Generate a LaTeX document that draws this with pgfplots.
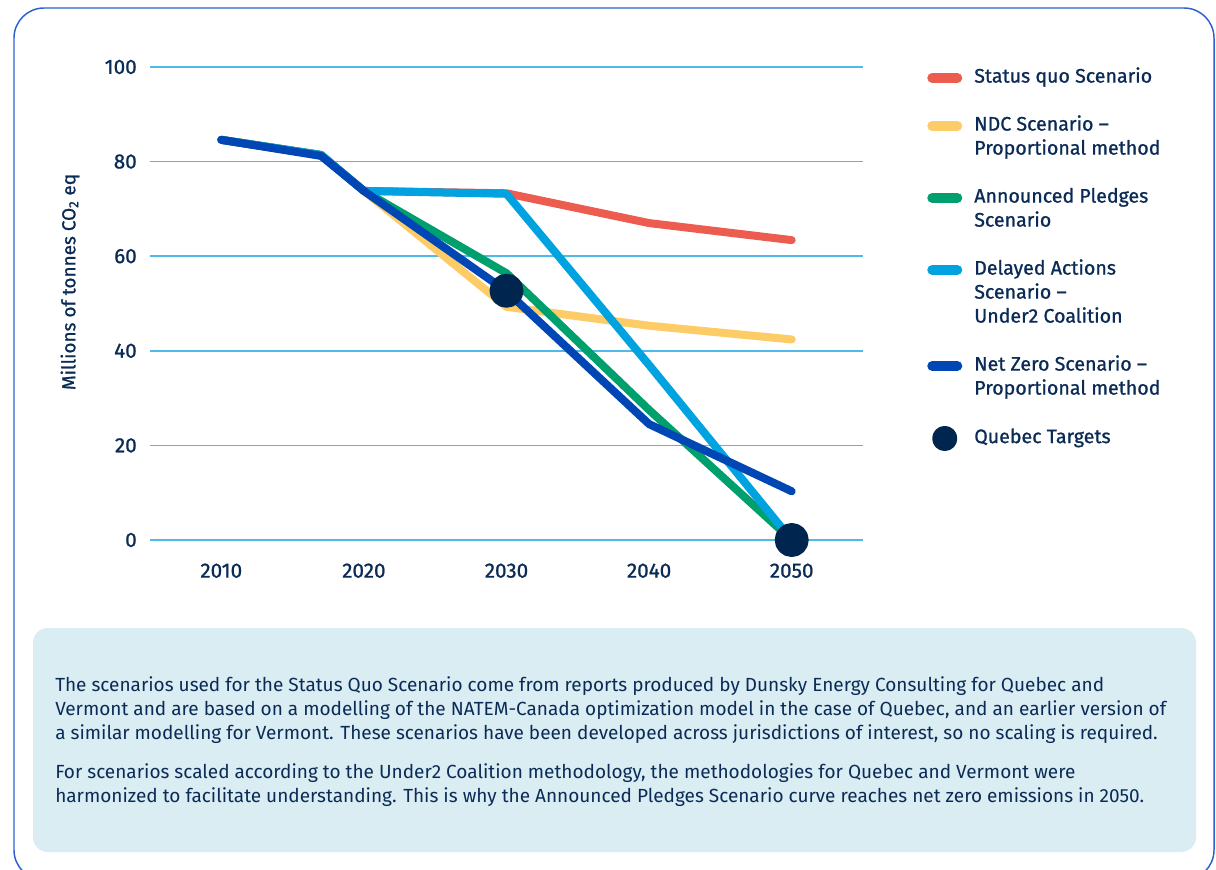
\documentclass[border=0pt]{standalone}
\usepackage{fontspec}
\usepackage{pgfplots}
\pgfplotsset{compat=1.18}
\setmainfont{Fira Sans}
\newfontfamily\medfont{Fira Sans}[FakeBold=1.0]

\definecolor{navy}{HTML}{0B2B57}
\definecolor{gridblue}{HTML}{4FB9E9}
\definecolor{sqred}{HTML}{EC5C4F}
\definecolor{ndcyellow}{HTML}{FECC66}
\definecolor{apgreen}{HTML}{00A06E}
\definecolor{dalblue}{HTML}{00A3DF}
\definecolor{nzblue}{HTML}{0046B5}
\definecolor{dotnavy}{HTML}{00264F}
\definecolor{notefill}{HTML}{DAEDF3}
\definecolor{frameblue}{HTML}{2D5FD3}

% emissions, Mt CO2 eq
\pgfplotstableread{
year val
2010 84.6
2017 81.4
2020 73.8
2030 73.3
2040 67.0
2050 63.4
}\statusquo
\pgfplotstableread{
year val
2010 84.6
2017 81.4
2020 73.8
2030 49.3
2040 45.3
2050 42.4
}\ndc
\pgfplotstableread{
year val
2010 84.6
2017 81.4
2020 73.8
2030 56.4
2040 27.5
2050 0
}\pledges
\pgfplotstableread{
year val
2010 84.6
2017 81.4
2020 73.8
2030 73.2
2040 37.0
2050 0
}\delayed
\pgfplotstableread{
year val
2010 84.6
2017 81.2
2020 73.8
2030 52.6
2040 24.5
2050 10.3
}\netzero
\pgfplotstableread{
year val
2030 52.7
2050 0
}\targets

% continuation line of a legend entry (no image)
\newcommand{\legline}[1]{\addlegendimage{empty legend}\addlegendentry{#1}}

\begin{document}
\begin{tikzpicture}
\begin{scope}[x=0.75pt,y=-0.75pt]
  \path[use as bounding box] (0,0) rectangle (1216,870);
  \draw[frameblue, line width=1.1pt, rounded corners=22.5pt] (14,8) rectangle (1214,880);
  \fill[notefill, rounded corners=11pt] (33,628) rectangle (1196,852);
  \node[anchor=west, text=navy, font=\fontsize{14.25}{18}\selectfont, align=left, inner sep=0pt]
    at (55,710.5) {The scenarios used for the Status Quo Scenario come from reports produced by Dunsky Energy Consulting for Quebec and\\
    Vermont and are based on a modelling of the NATEM-Canada optimization model in the case of Quebec, and an earlier version of\\
    a similar modelling for Vermont. These scenarios have been developed across jurisdictions of interest, so no scaling is required.};
  \node[anchor=west, text=navy, font=\fontsize{14.25}{18}\selectfont, align=left, inner sep=0pt]
    at (55,785) {For scenarios scaled according to the Under2 Coalition methodology, the methodologies for Quebec and Vermont were\\
    harmonized to facilitate understanding. This is why the Announced Pledges Scenario curve reaches net zero emissions in 2050.};
  \node[rotate=90, text=navy, font=\medfont\fontsize{14.2}{16}\selectfont, inner sep=0pt]
    at (70,282) {Millions of tonnes CO\textsubscript{2} eq};
\end{scope}

\begin{axis}[
  at={(112.5pt,-405pt)}, anchor=south west,
  scale only axis, width=534.75pt, height=354.75pt,
  xmin=2005, xmax=2055, ymin=0, ymax=100,
  xtick={2010,2020,2030,2040,2050},
  ytick={0,20,40,60,80,100},
  axis line style={draw=none},
  major tick length=0pt,
  ymajorgrids, grid style={gridblue, line width=1.1pt},
  /pgf/number format/1000 sep={},
  /pgf/number format/assume math mode=true,
  ticklabel style={font=\medfont\fontsize{15.5}{17}\selectfont, text=navy, inner sep=0pt},
  yticklabel style={anchor=east, xshift=-9.75pt},
  xticklabel style={anchor=north, yshift=-17.5pt},
  clip=false,
  legend cell align=left,
  legend style={
    at={(1.0, 1.0)}, anchor=north west, xshift=45pt, yshift=3pt,
    draw=none, fill=none, text=navy,
    font=\medfont\fontsize{14.7}{18}\selectfont,
    row sep=0pt,
    nodes={text height=12.5pt, text depth=5.5pt, inner sep=0pt},
  },
  legend image code/.code={%
    \path[draw=none, fill=none] (0pt,0pt) -- (35.25pt,0pt);
    \draw[#1, line width=7.5pt, line cap=round] (3.75pt,0pt) -- (22.5pt,0pt);},
  every axis plot/.append style={line width=6pt, line cap=round, line join=round},
]
\addplot[sqred] table[x=year,y=val] {\statusquo};
\addlegendentry{Status quo Scenario}
\legline{}
\addplot[ndcyellow] table[x=year,y=val] {\ndc};
\addlegendentry{NDC Scenario –}
\legline{Proportional method}
\legline{}
\addplot[apgreen] table[x=year,y=val] {\pledges};
\addlegendentry{Announced Pledges}
\legline{Scenario}
\legline{}
\addplot[dalblue] table[x=year,y=val] {\delayed};
\addlegendentry{Delayed Actions}
\legline{Scenario –}
\legline{Under2 Coalition}
\legline{}
\addplot[nzblue] table[x=year,y=val] {\netzero};
\addlegendentry{Net Zero Scenario –}
\legline{Proportional method}
\legline{}
\addplot[only marks, mark=*, mark size=9.75pt, color=dotnavy, mark options={draw=dotnavy, fill=dotnavy},
  legend image code/.code={\path[draw=none, fill=none] (0pt,0pt) -- (35.25pt,0pt); \fill[dotnavy] (13.1pt,0pt) circle (6.4pt);}]
  table[x=year,y=val] {\targets};
\addlegendentry{Quebec Targets}
\end{axis}
\end{tikzpicture}
\end{document}
